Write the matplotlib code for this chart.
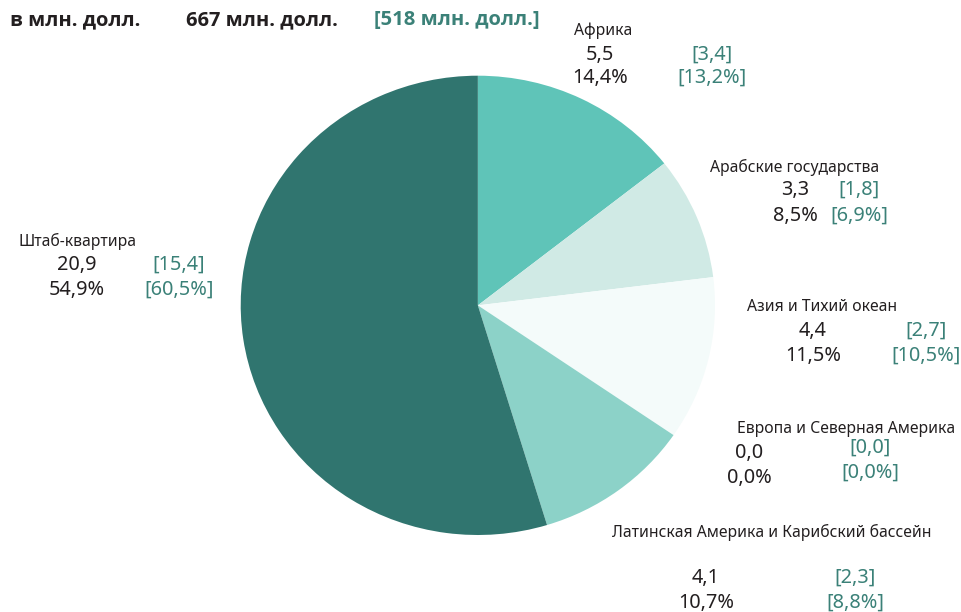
import matplotlib
matplotlib.use('Agg')
import matplotlib.pyplot as plt

plt.rcParams['font.family'] = ['Noto Sans', 'DejaVu Sans']

# data
regions = ['Африка', 'Арабские государства', 'Азия и Тихий океан',
           'Европа и Северная Америка',
           'Латинская Америка и Карибский бассейн', 'Штаб-квартира']
amounts = [5.5, 3.3, 4.4, 0.0, 4.1, 20.9]
shares = [14.4, 8.5, 11.5, 0.0, 10.7, 54.9]
prev_amounts = [3.4, 1.8, 2.7, 0.0, 2.3, 15.4]
prev_shares = [13.2, 6.9, 10.5, 0.0, 8.8, 60.5]
total = 667
prev_total = 518

colors = ['#5fc4b8', '#d0eae5', '#f4fbfa', '#e6f4f2', '#8cd2c8', '#30756f']
dark = '#231f20'
teal = '#3b8178'

# label layout in pixels: name (x, y), value column x, bracket column x,
# value row y, share row y, bracket row offset
layout = [
    ((603, 31), 600, 712, 55, 78, 0),
    ((795, 167), 795, 859, 190, 216, 0),
    ((822, 307), 813, 926, 331, 356, 0),
    ((846, 429), 749, 870, 453, 478, -5),
    ((772, 532), 706, 855, 578, 603, 0),
    ((77, 241), 77, 179, 265, 290, 0),
]


def fmt(v, pct=False):
    s = ('%.1f' % v).replace('.', ',')
    return s + '%' if pct else s


fig = plt.figure(figsize=(9.61, 6.12), dpi=100)

# pie drawn in its own axes, slightly wider than tall like the source
W, H = 961.0, 612.0
left, right, top, bottom = 240.7, 715.0, 75.7, 535.0
ax = fig.add_axes([left / W, (H - bottom) / H, (right - left) / W, (bottom - top) / H])
ax.pie(amounts, colors=colors, startangle=90, counterclock=False,
       radius=1, wedgeprops={'linewidth': 0})
ax.set_aspect('auto')
ax.set_xlim(-1, 1)
ax.set_ylim(-1, 1)
ax.axis('off')

# text overlay in pixel coordinates
tx = fig.add_axes([0, 0, 1, 1])
tx.set_xlim(0, W)
tx.set_ylim(H, 0)
tx.axis('off')

bold = ['Open Sans', 'DejaVu Sans']
tx.text(10, 20, 'в млн. долл.', fontsize=14.5, fontweight='bold', color=dark,
        ha='left', va='center', family=bold)
tx.text(186, 20, '%d млн. долл.' % total, fontsize=14.5, fontweight='bold',
        color=dark, ha='left', va='center', family=bold)
tx.text(374, 20, '[%d млн. долл.]' % prev_total, fontsize=14.5,
        fontweight='bold', color=teal, ha='left', va='center', family=bold)

for i, name in enumerate(regions):
    (nx, ny), vx, bx, vy, sy, boff = layout[i]
    tx.text(nx, ny, name, fontsize=11.3, color=dark, ha='center', va='center')
    tx.text(vx, vy, fmt(amounts[i]), fontsize=14.3, color=dark,
            ha='center', va='center')
    tx.text(vx, sy, fmt(shares[i], True), fontsize=14.3, color=dark,
            ha='center', va='center')
    tx.text(bx, vy + boff, '[' + fmt(prev_amounts[i]) + ']', fontsize=14.3,
            color=teal, ha='center', va='center')
    tx.text(bx, sy + boff, '[' + fmt(prev_shares[i], True) + ']',
            fontsize=14.3, color=teal, ha='center', va='center')

fig.savefig('out.png', dpi=100)
